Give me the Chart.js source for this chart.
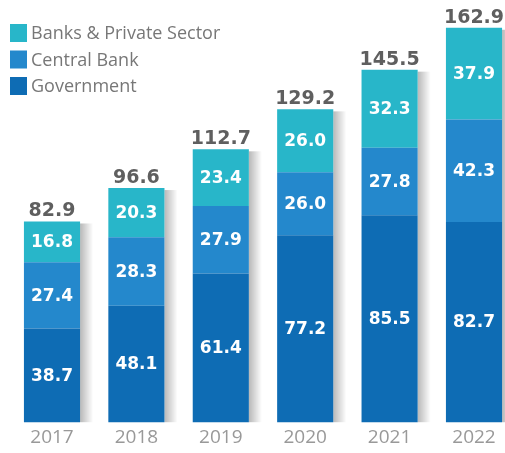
<!DOCTYPE html>
<html>
<head>
<meta charset="utf-8">
<script src="https://cdn.jsdelivr.net/npm/chart.js@4"></script>
<style>
  html, body { margin: 0; padding: 0; background: #fff; }
  #wrap { width: 505px; height: 453px; position: relative; }
</style>
</head>
<body>
<div id="wrap"><canvas id="chart"></canvas></div>
<script>
// ==================== DADOS ====================
const anos = ["2017", "2018", "2019", "2020", "2021", "2022"];
const governo = [38.7, 48.1, 61.4, 77.2, 85.5, 82.7];
const bancoCentral = [27.4, 28.3, 27.9, 26.0, 27.8, 42.3];
const bancosPrivados = [16.8, 20.3, 23.4, 26.0, 32.3, 37.9];
const totais = ["82.9", "96.6", "112.7", "129.2", "145.5", "162.9"];

const cores = {
  governo: "#0e6cb4",
  central: "#2488cc",
  privado: "#28b6c9",
};

const fonteValor = "bold 17px 'DejaVu Sans', sans-serif";
const fonteTotal = "bold 19px 'DejaVu Sans', sans-serif";

// ==================== SOMBRA DAS BARRAS ====================
const sombraBarras = {
  id: "sombraBarras",
  beforeDatasetsDraw(chart) {
    const ctx = chart.ctx;
    const base = chart.getDatasetMeta(0).data;
    const topo = chart.getDatasetMeta(2).data;
    ctx.save();
    topo.forEach((el, i) => {
      const right = el.x + el.width / 2;
      const y0 = el.y;
      const y1 = base[i].base;
      const g = ctx.createLinearGradient(right, 0, right + 13, 0);
      g.addColorStop(0, "rgba(0,0,0,0.28)");
      g.addColorStop(1, "rgba(0,0,0,0)");
      ctx.fillStyle = g;
      ctx.fillRect(right, y0 + 2, 13, y1 - y0 - 2);
    });
    ctx.restore();
  },
};

// ==================== RÓTULOS ====================
const rotulos = {
  id: "rotulos",
  afterDatasetsDraw(chart) {
    const ctx = chart.ctx;
    ctx.save();
    ctx.textAlign = "center";
    ctx.textBaseline = "middle";
    ctx.font = fonteValor;
    ctx.fillStyle = "#fff";
    chart.data.datasets.forEach((ds, d) => {
      chart.getDatasetMeta(d).data.forEach((el, i) => {
        ctx.fillText(ds.data[i].toFixed(1), el.x, (el.y + el.base) / 2 + 1);
      });
    });
    ctx.font = fonteTotal;
    ctx.fillStyle = "#5f5f5f";
    ctx.textBaseline = "alphabetic";
    chart.getDatasetMeta(2).data.forEach((el, i) => {
      ctx.fillText(totais[i], el.x, el.y - 5);
    });
    ctx.restore();
  },
};

// ==================== LEGENDA ====================
const legenda = {
  id: "legenda",
  afterDraw(chart) {
    const ctx = chart.ctx;
    const itens = chart.data.datasets.slice().reverse();
    ctx.save();
    ctx.font = "18px 'Open Sans', sans-serif";
    ctx.textBaseline = "middle";
    itens.forEach((ds, i) => {
      const cy = 33 + i * 26.5;
      ctx.fillStyle = ds.backgroundColor;
      ctx.fillRect(10, cy - 9, 17, 18);
      ctx.fillStyle = "#777";
      ctx.fillText(ds.label, 31, cy + 1);
    });
    ctx.restore();
  },
};

new Chart(document.getElementById("chart"), {
  type: "bar",
  data: {
    labels: anos,
    datasets: [
      { label: "Government", data: governo, backgroundColor: cores.governo },
      { label: "Central Bank", data: bancoCentral, backgroundColor: cores.central },
      { label: "Banks & Private Sector", data: bancosPrivados, backgroundColor: cores.privado },
    ],
  },
  options: {
    responsive: true,
    maintainAspectRatio: false,
    animation: false,
    layout: { padding: { left: 52, right: 31, top: 5, bottom: 0 } },
    datasets: {
      bar: { categoryPercentage: 1, barPercentage: 0.665, clip: false, borderWidth: 0 },
    },
    plugins: {
      legend: { display: false },
      tooltip: { enabled: false },
    },
    scales: {
      x: {
        stacked: true,
        offset: false,
        grid: { display: false, drawTicks: false },
        border: { display: false },
        ticks: {
          color: "#999",
          padding: 4,
          font: { family: "'Open Sans', sans-serif", size: 19 },
        },
      },
      y: {
        stacked: true,
        display: false,
        min: 0,
        max: 172.3,
      },
    },
  },
  plugins: [sombraBarras, rotulos, legenda],
});
</script>
</body>
</html>
